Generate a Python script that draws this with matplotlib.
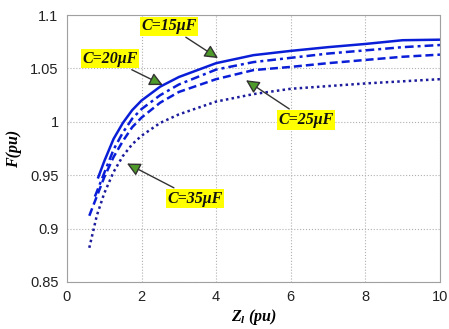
import matplotlib
matplotlib.use("Agg")
import matplotlib.pyplot as plt

plt.rcParams["mathtext.fontset"] = "custom"
plt.rcParams["mathtext.it"] = "Liberation Serif:italic:bold"
plt.rcParams["mathtext.rm"] = "Liberation Serif:bold"

# Curvas F(pu) vs Zl(pu) para distintas capacidades
x15 = [0.84, 1.0, 1.25, 1.5, 1.75, 2.0, 2.5, 3.0, 4.0, 5.0, 6.0, 7.0, 8.0, 9.0, 10.0]
f15 = [0.948, 0.963, 0.984, 0.999, 1.011, 1.020, 1.033, 1.042, 1.055, 1.0625, 1.0665, 1.070, 1.073, 1.0765, 1.077]

x20 = [0.75, 1.0, 1.25, 1.5, 1.75, 2.0, 2.5, 3.0, 4.0, 5.0, 6.0, 7.0, 8.0, 9.0, 10.0]
f20 = [0.930, 0.952, 0.974, 0.990, 1.003, 1.012, 1.025, 1.035, 1.049, 1.056, 1.060, 1.064, 1.067, 1.070, 1.072]

x25 = [0.6, 0.8, 1.0, 1.25, 1.5, 1.75, 2.0, 2.5, 3.0, 4.0, 5.0, 6.0, 7.0, 8.0, 9.0, 10.0]
f25 = [0.912, 0.930, 0.948, 0.967, 0.982, 0.995, 1.004, 1.018, 1.028, 1.040, 1.0485, 1.0515, 1.055, 1.058, 1.061, 1.063]

x35 = [0.6, 0.8, 1.0, 1.25, 1.5, 1.75, 2.0, 2.5, 3.0, 4.0, 5.0, 6.0, 7.0, 8.0, 9.0, 10.0]
f35 = [0.882, 0.912, 0.933, 0.953, 0.968, 0.979, 0.987, 0.999, 1.007, 1.019, 1.026, 1.031, 1.0335, 1.036, 1.038, 1.040]

etiquetas = ["C=15\u03bcF", "C=20\u03bcF", "C=25\u03bcF", "C=35\u03bcF"]
pos_texto = [(2.73, 1.0897), (1.15, 1.059), (6.41, 1.0017), (3.43, 0.928)]
pos_flecha = [(4.05, 1.0597), (2.57, 1.0345), (4.8, 1.039), (1.61, 0.961)]

fig = plt.figure(figsize=(4.49, 3.29), dpi=100)
ax = fig.add_axes([0.149, 0.143, 0.831, 0.811])

ax.plot(x15, f15, color="#0a1ed8", linestyle="-", linewidth=1.8)
ax.plot(x20, f20, color="#0a1ed8", linestyle=(0, (3.5, 1.6, 1.2, 1.6)), linewidth=1.8)
ax.plot(x25, f25, color="#0a1ed8", linestyle=(0, (3.2, 1.6)), linewidth=1.8)
ax.plot(x35, f35, color="#1c1c9c", linestyle=(0, (1, 1.3)), linewidth=1.8)

ax.set_xlim(0, 10)
ax.set_ylim(0.85, 1.1)
ax.set_xticks([0, 2, 4, 6, 8, 10])
ax.set_yticks([0.85, 0.9, 0.95, 1.0, 1.05, 1.1])
ax.set_yticklabels(["0.85", "0.9", "0.95", "1", "1.05", "1.1"])
ax.tick_params(labelsize=10.5, length=0, pad=6, colors="#222222")
for lbl in ax.get_xticklabels() + ax.get_yticklabels():
    lbl.set_family("Liberation Sans")
ax.grid(True, linestyle=":", color="#b0b0b0", linewidth=0.8)
for s in ax.spines.values():
    s.set_color("#a0a0a0")

ax.set_xlabel(r"$Z_l$" + " (pu)", family="Liberation Serif",
              fontstyle="italic", fontweight="bold", fontsize=11.5, labelpad=2)
ax.set_ylabel("F(pu)", family="Liberation Serif", fontstyle="italic",
              fontweight="bold", fontsize=11.5, labelpad=6)

for txt, (tx, ty), (ax_, ay) in zip(etiquetas, pos_texto, pos_flecha):
    ax.annotate(txt, xy=(ax_, ay), xytext=(tx, ty), ha="center", va="center",
                family="Liberation Serif", fontstyle="italic", fontweight="bold",
                fontsize=11.5, color="#111111",
                bbox=dict(boxstyle="square,pad=0.1", fc="#ffff00", ec="none"),
                arrowprops=dict(arrowstyle="-|>,head_length=0.7,head_width=0.35",
                                fc="#4e9a2a", ec="#333333", lw=1.0,
                                shrinkA=2, shrinkB=0))

plt.savefig("out.png", dpi=100)
plt.close()
